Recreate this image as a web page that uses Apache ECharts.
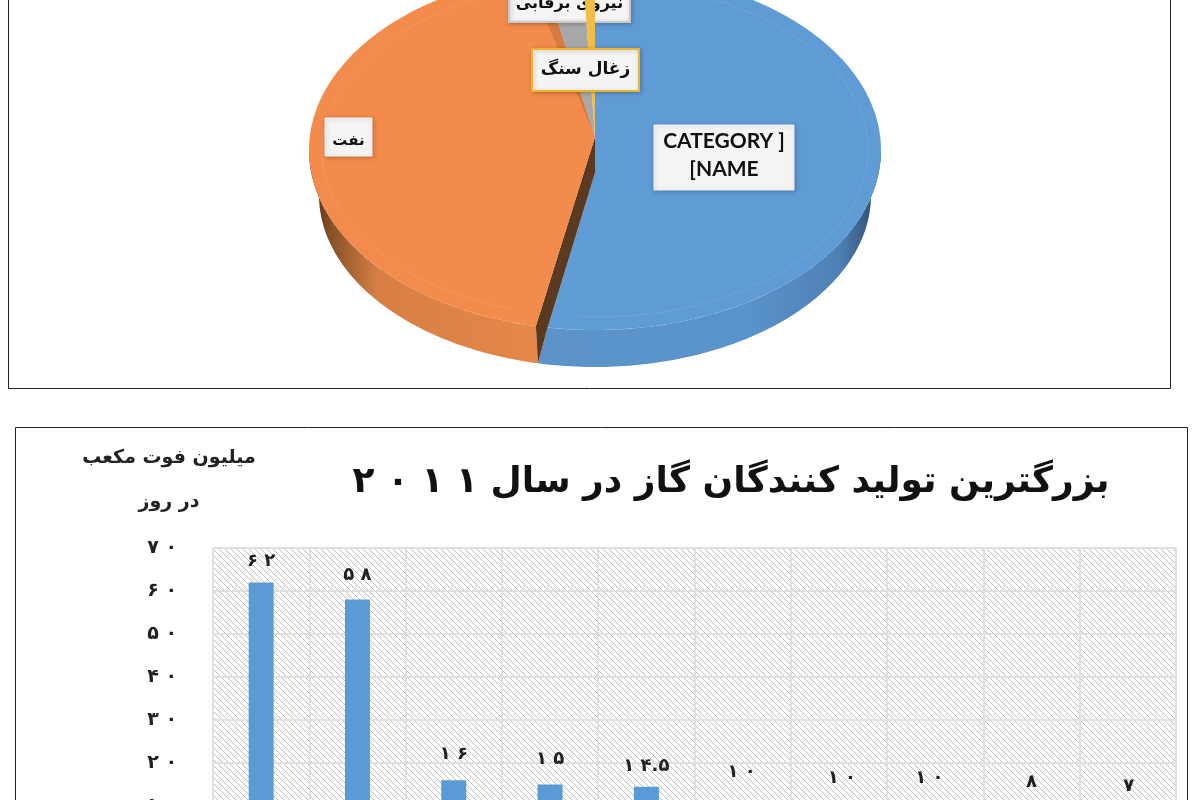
<!DOCTYPE html>
<html><head><meta charset="utf-8">
<style>html,body{margin:0;padding:0;background:#fff;overflow:hidden;height:800px}#c{width:1200px;height:900px}</style>
<script src="https://cdn.jsdelivr.net/npm/echarts@6/dist/echarts.min.js"></script>
</head><body><div id="c"></div>
<script>
// ---- data ----
const pieNames = ['[CATEGORY NAME]', 'نفت', 'نیروی برقابی', 'زغال سنگ'];
const pieValues = [53, 44, 2.3, 0.7];
const barCategories = ['۱','۲','۳','۴','۵','۶','۷','۸','۹','۱۰'];
const barValues = [62, 58, 16, 15, 14.5, 10, 10, 10, 8, 7];
const titleText = '\u2067بزرگترین تولید کنندگان گاز در سال \u2066۲ ۰ ۱ ۱\u2069\u2069';
const axisUnit = 'میلیون فوت مکعب\nدر روز';

// ---- layout / style ----
const labelLift = [12, 15, 17, 16, 11, 25, 19, 19, 23, 24];
const labelShift = [0, 0, 0, 0, 0, -1, 3, -6, 0, 1];
const pieColors = ['#5f9bd5', '#f28b4b', '#a8a8a8', '#f2bd47'];
const topRim = {cx: 595, cy: 150, rx: 286, ry: 180};
const lowRim = {cx: 595, cy: 195, rx: 276, ry: 172};
const blueApex = [595, 173];
const restApex = [595, 137];
const gapDeg = 2.4;
const boxes = [
  {x: 654, y: 125, w: 140, h: 65, lines: ['CATEGORY ]', '[NAME'], font: 'bold 21px Lato,"Open Sans",sans-serif', border: null, lh: 28, dy: -2},
  {x: 325, y: 118, w: 47, h: 38, lines: ['نفت'], font: 'bold 15px "DejaVu Sans",sans-serif', border: null, dy: 4},
  {x: 509, y: -14, w: 121, h: 36, lines: ['نیروی برقابی'], font: 'bold 16px "DejaVu Sans",sans-serif', border: '#c8c8c8', dy: 0},
  {x: 532, y: 49, w: 107, h: 42, lines: ['زغال سنگ'], font: 'bold 17px "DejaVu Sans",sans-serif', border: '#f0b429', dy: 0}
];
const wallFill = [
  {type:'linear',x:0,y:0,x2:1,y2:0,colorStops:[{offset:0,color:'#5c93cb'},{offset:.6,color:'#5a93cc'},{offset:.88,color:'#4f80b4'},{offset:1,color:'#2a4766'}]},
  {type:'linear',x:0,y:0,x2:1,y2:0,colorStops:[{offset:0,color:'#4a2a12'},{offset:.1,color:'#8a5228'},{offset:.3,color:'#d67f45'},{offset:1,color:'#e58849'}]}
];

const total = pieValues.reduce((a, b) => a + b, 0);
const spans = [];
let run = 0;
pieValues.forEach((v, i) => {
  const a = v / total * (360 - gapDeg);
  spans.push([run, run + a]);
  run += a + (i === 0 ? gapDeg : 0);
});
const pt = (e, deg) => { const t = deg * Math.PI / 180; return [e.cx + e.rx * Math.sin(t), e.cy - e.ry * Math.cos(t)]; };
const arc = (e, a, b) => { const p = []; const n = Math.max(2, Math.ceil(Math.abs(b - a))); for (let i = 0; i <= n; i++) p.push(pt(e, a + (b - a) * i / n)); return p; };

function renderSlice(params, api) {
  const i = params.dataIndex;
  const [a, b] = spans[i];
  const color = pieColors[i];
  const kids = [];
  const wa = Math.max(a, 90), wb = Math.min(b, 270);
  if (wb > wa) {
    // the blue wall runs under the gap so that it meets the orange wall at the lower rim
    const lowEnd = i === 0 ? wb + gapDeg : wb;
    kids.push({type:'polygon', shape:{points: arc(topRim, wa, wb).concat(arc(lowRim, wa, lowEnd).reverse())}, style:{fill: wallFill[i] || color}});
  }
  if (i === 1) {
    // dark inner wall exposed in the gap between the two big slices
    kids.push({type:'polygon', shape:{points:[restApex, blueApex, pt(topRim, a - gapDeg), pt(lowRim, a), pt(topRim, a)]}, style:{fill:'#5c3a20'}});
  }
  const centre = i === 0 ? blueApex : restApex;
  const face = i === 0 ? [[topRim.cx, topRim.cy - topRim.ry], centre].concat(arc(topRim, b, a)) : [centre].concat(arc(topRim, a, b));
  kids.push({type:'polygon', shape:{points: face}, style:{fill: color}});
  if (i === 1) {
    kids.push({type:'polygon', shape:{points:[centre].concat(arc(topRim, b - 3, b))}, style:{fill:'#d97a3f'}});
  }
  if (i < 2) {
    const inset = {cx: topRim.cx, cy: topRim.cy, rx: topRim.rx - 13, ry: topRim.ry - 13};
    kids.push({type:'polyline', shape:{points: arc(inset, a + 6, b - 6)}, style:{fill:'none', stroke:'rgba(255,255,255,.1)', lineWidth:1}});
  }
  const bx = boxes[i];
  kids.push({type:'rect', shape:{x:bx.x, y:bx.y, width:bx.w, height:bx.h},
    style:{fill:'#f4f4f4', stroke: bx.border || '#f4f4f4', lineWidth: bx.border ? 2 : 1, shadowBlur:4, shadowColor:'rgba(0,0,0,.22)', shadowOffsetX:1, shadowOffsetY:1}});
  const lh = bx.lh || 20;
  bx.lines.forEach((t, k) => {
    kids.push({type:'text', style:{text:t, x:bx.x + bx.w / 2, y:bx.y + bx.h / 2 + bx.dy + (k - (bx.lines.length - 1) / 2) * lh,
      font:bx.font, fill:'#111', align:'center', verticalAlign:'middle'}});
  });
  return {type:'group', children:kids};
}

function hatch() {
  const s = 6, c = document.createElement('canvas');
  c.width = c.height = s;
  const g = c.getContext('2d');
  g.fillStyle = '#ffffff'; g.fillRect(0, 0, s, s);
  g.strokeStyle = '#bcbcbc'; g.lineWidth = 1;
  [[-s, 0], [0, 0], [0, -s]].forEach(([dx, dy]) => { g.beginPath(); g.moveTo(dx, dy); g.lineTo(dx + 2 * s, dy + 2 * s); g.stroke(); });
  return c;
}
const faDigits = v => String(v).replace(/\d/g, d => '۰۱۲۳۴۵۶۷۸۹'[d]);
const spaced = v => faDigits(v).split('').join(' ').replace(' . ', '.');

const chart = echarts.init(document.getElementById('c'), null, {renderer:'canvas'});
chart.setOption({
  animation: false,
  backgroundColor: '#fff',
  title: {
    text: titleText, left: 726, top: 460, textAlign: 'center',
    textStyle: {fontFamily: '"DejaVu Sans",sans-serif', fontWeight: 'bold', fontSize: 36, color: '#111'}
  },
  grid: {left: 213, right: 24, top: 548, height: 301, show: true, borderWidth: 0,
    backgroundColor: {image: hatch(), repeat: 'repeat'}},
  xAxis: {type: 'category', data: barCategories, boundaryGap: true,
    axisLabel: {show: false}, axisTick: {show: false}, axisLine: {show: false},
    splitLine: {show: true, interval: 0, lineStyle: {color: '#e0e0e0', width: 2}}},
  yAxis: {type: 'value', min: 0, max: 70, interval: 10,
    name: axisUnit, nameLocation: 'end', nameGap: 24,
    nameTextStyle: {fontFamily: '"DejaVu Sans",sans-serif', fontWeight: 'bold', fontSize: 19, lineHeight: 44, color: '#222', align: 'center', padding: [0, 88, 0, 0]},
    axisLabel: {formatter: spaced, margin: 36, fontFamily: '"DejaVu Sans",sans-serif', fontWeight: 'bold', fontSize: 19, color: '#222', verticalAlign: 'middle'},
    axisTick: {show: false}, axisLine: {show: false},
    splitLine: {show: true, lineStyle: {color: '#e0e0e0', width: 2}}},
  graphic: [
    {type: 'rect', silent: true, z: 0, shape: {x: 8.5, y: -20, width: 1162, height: 408.5}, style: {fill: 'none', stroke: '#222', lineWidth: 1}},
    {type: 'rect', silent: true, z: 0, shape: {x: 15.5, y: 427.5, width: 1172, height: 470}, style: {fill: 'none', stroke: '#222', lineWidth: 1}}
  ],
  series: [
    {type: 'custom', name: 'pie', coordinateSystem: 'none', renderItem: renderSlice, silent: true,
     data: pieValues.map((v, i) => ({name: pieNames[i], value: [v]}))},
    {type: 'bar', name: 'gas', barWidth: 25, silent: true,
     itemStyle: {color: '#5b9bd5'},
     data: barValues.map((v, i) => ({value: v, label: {distance: labelLift[i], offset: [labelShift[i], 0]}})),
     label: {show: true, position: 'top', formatter: p => spaced(p.value),
       fontFamily: '"DejaVu Sans",sans-serif', fontWeight: 'bold', fontSize: 18, color: '#222'}}
  ]
});
</script></body></html>
